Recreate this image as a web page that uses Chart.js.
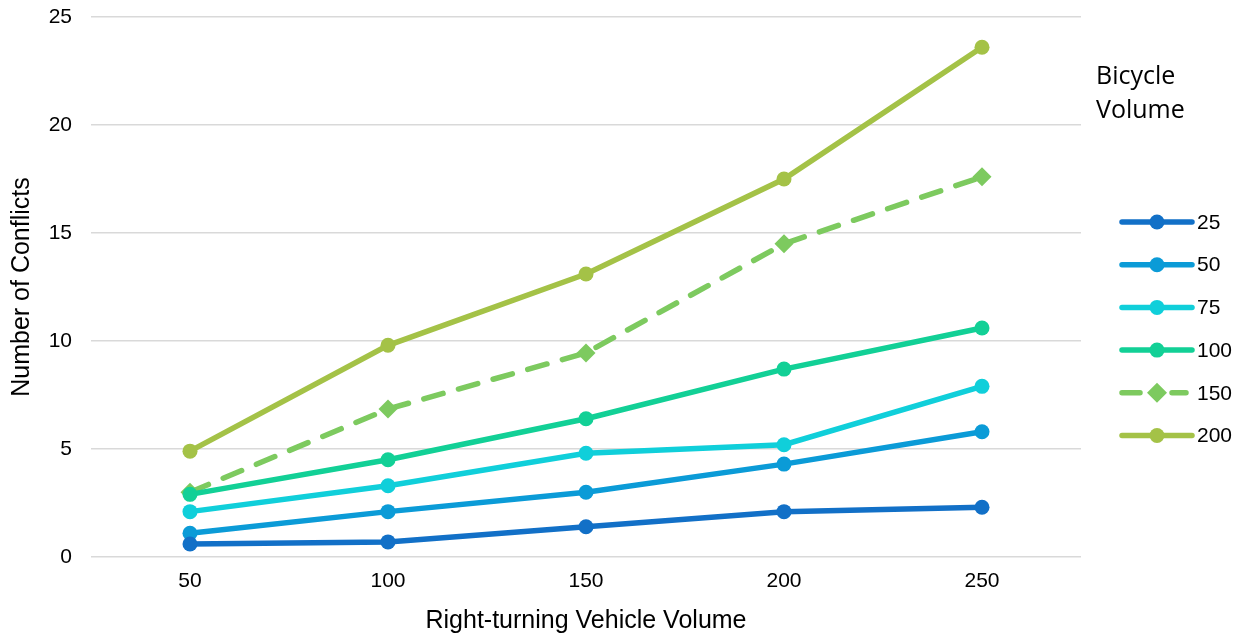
<!DOCTYPE html>
<html>
<head>
<meta charset="utf-8">
<script src="https://cdn.jsdelivr.net/npm/chart.js@4.4.1/dist/chart.umd.min.js"></script>
<style>
  html, body { margin: 0; padding: 0; background: #fff; }
  #wrap { width: 1251px; height: 641px; position: relative; }
</style>
</head>
<body>
<div id="wrap"><canvas id="conflictChart" width="1251" height="641"></canvas></div>
<script>
// right-turning vehicle volume (x categories)
const vehicleVolumes = ['50', '100', '150', '200', '250'];
const yTicks = [0, 5, 10, 15, 20, 25];

// number of conflicts per bicycle volume
const bike25 = [0.6, 0.7, 1.4, 2.1, 2.3];
const bike50 = [1.1, 2.1, 3.0, 4.3, 5.8];
const bike75 = [2.1, 3.3, 4.8, 5.2, 7.9];
const bike100 = [2.9, 4.5, 6.4, 8.7, 10.6];
const bike150 = [3.0, 6.85, 9.45, 14.5, 17.6];
const bike200 = [4.9, 9.8, 13.1, 17.5, 23.6];

const seriesNames = ['25', '50', '75', '100', '150', '200'];
const seriesData = [bike25, bike50, bike75, bike100, bike150, bike200];
const seriesColors = ['#1270c7', '#0b9bd7', '#10cfda', '#12d096', '#7dca5f', '#a4c247'];

const FONT = '"Liberation Sans", Arial, sans-serif';

const datasets = seriesNames.map((name, i) => {
    const dashed = name === '150';
    return {
        label: name,
        data: seriesData[i],
        borderColor: seriesColors[i],
        backgroundColor: seriesColors[i],
        borderWidth: 5.5,
        borderDash: dashed ? [20, 16] : [],
        borderCapStyle: dashed ? 'round' : 'butt',
        pointStyle: dashed ? 'rectRot' : 'circle',
        pointRadius: dashed ? 9.5 : 7.5,
        pointBorderWidth: 0,
        tension: 0
    };
});

// legend on the right: short line with marker in the middle, plus the title
const sideLegend = {
    id: 'sideLegend',
    afterDraw(chart) {
        const ctx = chart.ctx;
        ctx.save();
        ctx.fillStyle = '#000';
        ctx.font = '25px "Open Sans", "Noto Sans", sans-serif';
        ctx.textBaseline = 'middle';
        ctx.textAlign = 'left';
        ctx.fillText('Bicycle', 1096, 77);
        ctx.fillText('Volume', 1096, 111);

        chart.data.datasets.forEach((ds, i) => {
            const y = 222 + i * 42.7;
            const x0 = 1122, x1 = 1192, xm = 1157;
            ctx.strokeStyle = ds.borderColor;
            ctx.lineWidth = 5.5;
            ctx.lineCap = 'round';
            ctx.beginPath();
            if (ds.borderDash.length) {
                ctx.moveTo(x0, y); ctx.lineTo(x0 + 18, y);
                ctx.moveTo(x1 - 20, y); ctx.lineTo(x1 - 6, y);
            } else {
                ctx.moveTo(x0, y); ctx.lineTo(x1, y);
            }
            ctx.stroke();
            ctx.fillStyle = ds.backgroundColor;
            ctx.beginPath();
            if (ds.pointStyle === 'rectRot') {
                ctx.moveTo(xm, y - 10); ctx.lineTo(xm + 10, y);
                ctx.lineTo(xm, y + 10); ctx.lineTo(xm - 10, y);
                ctx.closePath();
            } else {
                ctx.arc(xm, y, 7.5, 0, Math.PI * 2);
            }
            ctx.fill();
            ctx.fillStyle = '#000';
            ctx.font = '21px ' + FONT;
            ctx.fillText(ds.label, 1197, y + 1);
        });
        ctx.restore();
    }
};

new Chart(document.getElementById('conflictChart'), {
    type: 'line',
    data: { labels: vehicleVolumes, datasets: datasets },
    options: {
        responsive: false,
        animation: false,
        layout: { padding: { top: 17, right: 170, left: 0, bottom: 0 } },
        plugins: {
            legend: { display: false },
            tooltip: { enabled: false }
        },
        scales: {
            x: {
                offset: true,
                grid: { display: false, drawTicks: false },
                border: { display: false },
                ticks: { color: '#000', font: { size: 21, family: FONT }, padding: 12 },
                title: {
                    display: true, text: 'Right-turning Vehicle Volume', color: '#000',
                    font: { size: 25, family: FONT }, padding: { top: 4, bottom: 5 }
                },
                afterFit(scale) { scale.height = 84; }
            },
            y: {
                min: 0, max: 25,
                afterBuildTicks(scale) { scale.ticks = yTicks.map(v => ({ value: v })); },
                grid: { color: '#d9d9d9', lineWidth: 1.5, drawTicks: false },
                border: { display: false },
                ticks: { color: '#000', font: { size: 21, family: FONT }, padding: 19 },
                title: {
                    display: true, text: 'Number of Conflicts', color: '#000',
                    font: { size: 25, family: FONT }, padding: { top: 7, bottom: 0 }
                },
                afterFit(scale) {
                    scale.width = 91;
                    scale.paddingTop = 0;
                    scale.paddingBottom = 0;
                }
            }
        }
    },
    plugins: [sideLegend]
});
</script>
</body>
</html>
